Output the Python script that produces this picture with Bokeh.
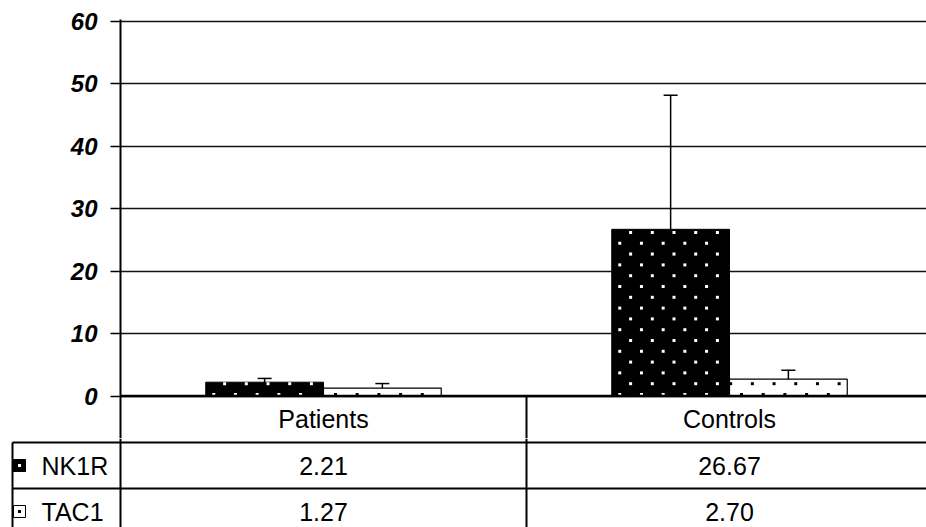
from bokeh.plotting import figure
from bokeh.models import Range1d, FixedTicker, ColumnDataSource, Whisker, TeeHead, Span
from bokeh.embed import file_html
from bokeh.resources import INLINE
from bokeh.core.properties import value

# ---- data ----
categories = ["Patients", "Controls"]
series = ["NK1R", "TAC1"]
nk1r = [2.21, 26.67]
tac1 = [1.27, 2.70]
nk1r_err = [0.6, 21.46]
tac1_err = [0.72, 1.42]
y_ticks = [0, 10, 20, 30, 40, 50, 60]

FONT = "Liberation Sans"

# ---- geometry ----
W = 926
CAT_PX = 406.0
LEFT = 120
x_end = (W - LEFT) / CAT_PX
PXU = 6.25            # px per y unit
H1 = 438
TOP = 19
zero_from_top = 376.5
y1_top = zero_from_top / PXU
y1_bot = -((H1 - TOP) - zero_from_top) / PXU
ROW = 46.0
cat_row_y = -(ROW / 2) / PXU
bar_w = 0.29
off = 0.145

p1 = figure(width=W, height=H1, x_range=Range1d(0, x_end), y_range=Range1d(y1_bot, y1_top),
            x_axis_location=None, toolbar_location=None, output_backend="svg",
            min_border_left=LEFT, min_border_right=0, min_border_top=TOP, min_border_bottom=0,
            outline_line_color=None, background_fill_color="white", border_fill_color="white")
p1.xgrid.visible = False
p1.ygrid.ticker = FixedTicker(ticks=y_ticks)
p1.ygrid.grid_line_color = "#111111"
p1.ygrid.grid_line_width = 1.5
ax = p1.yaxis[0]
ax.ticker = FixedTicker(ticks=y_ticks)
ax.major_label_text_font = FONT
ax.major_label_text_font_style = "bold italic"
ax.major_label_text_font_size = "24px"
ax.major_label_text_color = "black"
ax.axis_line_width = 2
ax.axis_line_color = "black"
ax.major_tick_line_width = 1.5
ax.major_tick_line_color = "black"
ax.major_tick_out = 10
ax.major_tick_in = 0
ax.minor_tick_out = 0
ax.minor_tick_in = 0
ax.major_label_standoff = 13

idx = list(range(len(categories)))
xs_n = [i + 0.5 - off for i in idx]
xs_t = [i + 0.5 + off for i in idx]

p1.vbar(x=xs_n, top=nk1r, bottom=0, width=bar_w, fill_color="black", line_color="black",
        line_width=1)
p1.vbar(x=xs_t, top=tac1, bottom=0, width=bar_w, fill_color="white", line_color="black",
        line_width=1.2)

# dotted fill pattern (staggered small squares) computed from each bar's extent
step_x = 21.7 / CAT_PX
step_y = 10.8 / PXU
y_start = 1.5 / PXU
dot_x, dot_y, dot_c = [], [], []
for xs, vals_, color, phase in ((xs_n, nk1r, "white", 8.0), (xs_t, tac1, "black", 12.0)):
    for xc, v in zip(xs, vals_):
        left = xc - bar_w / 2
        right = xc + bar_w / 2
        r = 0
        y = y_start
        while y < v - 0.6 / PXU:
            ph = phase if r % 2 == 0 else (phase + 10.85) % 21.7
            xx = left + ph / CAT_PX
            while xx < right - 3 / CAT_PX:
                dot_x.append(xx)
                dot_y.append(y)
                dot_c.append(color)
                xx += step_x
            r += 1
            y = y_start + r * step_y
p1.scatter(x=dot_x, y=dot_y, marker="square", size=3, fill_color=dot_c, line_color=None)

err_src = ColumnDataSource(dict(
    x=xs_n + xs_t,
    up=[v + e for v, e in zip(nk1r, nk1r_err)] + [v + e for v, e in zip(tac1, tac1_err)],
    lo=[v - e for v, e in zip(nk1r, nk1r_err)] + [v - e for v, e in zip(tac1, tac1_err)],
))
p1.add_layout(Whisker(source=err_src, base="x", upper="up", lower="lo", dimension="height",
                      line_color="black", line_width=1.5,
                      upper_head=TeeHead(size=14, line_width=1.5, line_color="black"),
                      lower_head=TeeHead(size=14, line_width=1.5, line_color="black")))

p1.add_layout(Span(location=0, dimension="width", line_color="black", line_width=2.5))
p1.segment(x0=[1], y0=[0], x1=[1], y1=[y1_bot], line_color="black", line_width=2)
p1.text(x=[i + 0.5 for i in idx], y=[cat_row_y] * len(idx), text=categories,
        text_font=value(FONT), text_font_size="25px", text_align="center",
        text_baseline="middle", text_color="black")

# ---- data table ----
H2 = 527 - H1
y2_top = (442 - H1) / ROW
y2_bot = -(H2 - (442 - H1)) / ROW
x2_start = -LEFT / CAT_PX
left_border = -(120 - 12) / CAT_PX

p2 = figure(width=W, height=H2, x_range=Range1d(x2_start, x_end), y_range=Range1d(y2_bot, y2_top),
            x_axis_location=None, y_axis_location=None, toolbar_location=None, output_backend="svg",
            min_border=0, min_border_left=0, min_border_right=0, min_border_top=0,
            min_border_bottom=0, outline_line_color=None, background_fill_color="white",
            border_fill_color="white")
p2.grid.visible = False

p2.segment(x0=[left_border, left_border], y0=[0, -1], x1=[x_end, x_end], y1=[0, -1],
           line_color="black", line_width=2)
p2.segment(x0=[left_border, 0, 1], y0=[0, y2_top, y2_top], x1=[left_border, 0, 1],
           y1=[y2_bot] * 3, line_color="black", line_width=2)

rows_y = [-(k + 0.5) for k in range(len(series))]
mark_x = (19 - 120) / CAT_PX
p2.rect(x=[mark_x] * 2, y=rows_y, width=12, height=12, width_units="screen", height_units="screen",
        fill_color=["black", "white"], line_color="black", line_width=1)
p2.rect(x=[mark_x] * 2, y=rows_y, width=3, height=3, width_units="screen", height_units="screen",
        fill_color=["white", "black"], line_color=None)
p2.text(x=[(41 - 120) / CAT_PX] * 2, y=rows_y, text=series, text_font=value(FONT),
        text_font_size="25px", text_align="left", text_baseline="middle", text_color="black")

vals = [nk1r, tac1]
tx, ty, tt = [], [], []
for k, row in enumerate(vals):
    for i, v in enumerate(row):
        tx.append(i + 0.5)
        ty.append(rows_y[k])
        tt.append(f"{v:.2f}")
p2.text(x=tx, y=ty, text=tt, text_font=value(FONT), text_font_size="25px", text_align="center",
        text_baseline="middle", text_color="black")

open("out.html", "w").write(file_html([p1, p2], INLINE))
